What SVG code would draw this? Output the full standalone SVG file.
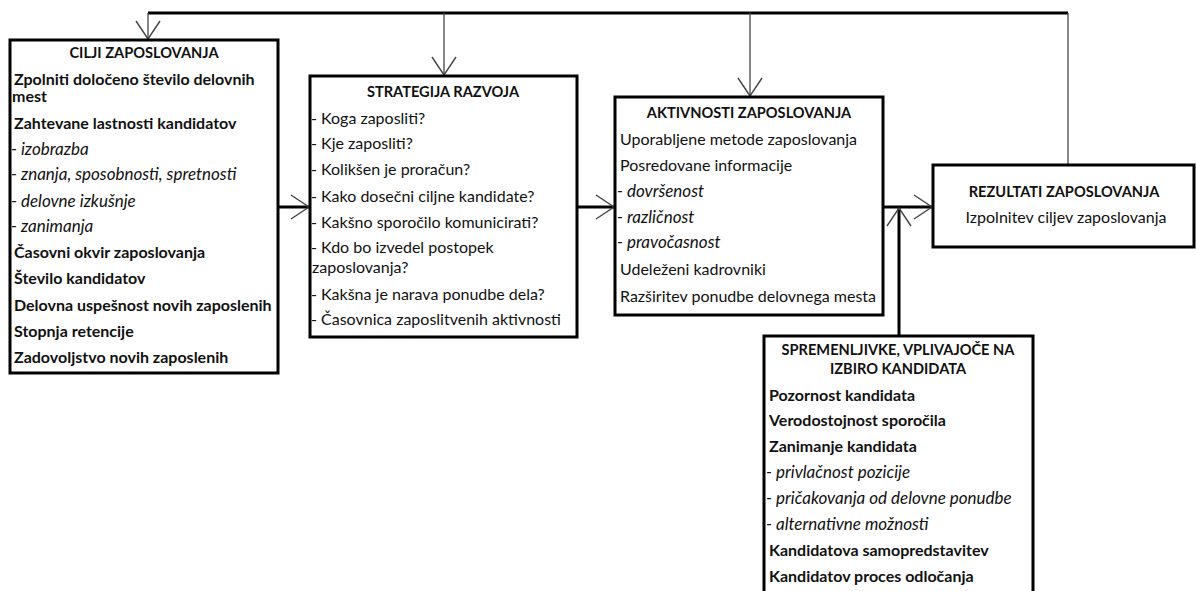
<svg xmlns="http://www.w3.org/2000/svg" width="1196" height="591" viewBox="0 0 1196 591">
<style>
text{font-family:Lato,"Liberation Sans",sans-serif;font-size:16px;fill:#111}
.t{font-weight:bold;font-size:14.6px;text-anchor:middle}
.b{font-weight:bold}
.i{font-style:italic;font-size:17px}
.box{fill:#fff;stroke:#000;stroke-width:3}
.thick{fill:none;stroke:#000;stroke-width:3}
.thin{fill:none;stroke:#444;stroke-width:1.3}
</style>
<defs>
<marker id="ah" viewBox="-20 -14 23 28" refX="0" refY="0" markerWidth="23" markerHeight="28" orient="auto" markerUnits="userSpaceOnUse">
<path d="M-18,-12 L0,0 L-18,12" fill="none" stroke="#444" stroke-width="1.4"/>
</marker>
</defs>
<g id="connectors">
<path class="thick" d="M148,13 H1068" stroke-width="2.5"/>
<path class="thin" d="M1068,13 V165"/>
<path class="thin" d="M148,13 V39" marker-end="url(#ah)"/>
<path class="thin" d="M444,13 V75" marker-end="url(#ah)"/>
<path class="thin" d="M750,13 V96" marker-end="url(#ah)"/>
<path class="thick" d="M278,207 H309" marker-end="url(#ah)"/>
<path class="thick" d="M577,207 H614" marker-end="url(#ah)"/>
<path class="thick" d="M883,207 H932" marker-end="url(#ah)"/>
<path class="thick" d="M899,336 V208" stroke-width="3.5" marker-end="url(#ah)"/>
</g>
<g id="cilji">
<rect class="box" x="10" y="40" width="268" height="333"/>
<text class="t" x="144" y="58">CILJI ZAPOSLOVANJA</text>
<text class="b" x="14" y="85">Zpolniti določeno število delovnih</text>
<text class="b" x="12" y="102">mest</text>
<text class="b" x="14" y="129">Zahtevane lastnosti kandidatov</text>
<text class="i" x="11" y="155">- izobrazba</text>
<text class="i" x="11" y="180">- znanja, sposobnosti, spretnosti</text>
<text class="i" x="11" y="207">- delovne izkušnje</text>
<text class="i" x="11" y="232">- zanimanja</text>
<text class="b" x="14" y="258">Časovni okvir zaposlovanja</text>
<text class="b" x="14" y="284">Število kandidatov</text>
<text class="b" x="14" y="311">Delovna uspešnost novih zaposlenih</text>
<text class="b" x="14" y="337">Stopnja retencije</text>
<text class="b" x="14" y="363">Zadovoljstvo novih zaposlenih</text>
</g>
<g id="strategija">
<rect class="box" x="310" y="76" width="267" height="261"/>
<text class="t" x="443" y="97">STRATEGIJA RAZVOJA</text>
<text x="311" y="124">- Koga zaposliti?</text>
<text x="311" y="149">- Kje zaposliti?</text>
<text x="311" y="175">- Kolikšen je proračun?</text>
<text x="311" y="202">- Kako dosečni ciljne kandidate?</text>
<text x="311" y="228">- Kakšno sporočilo komunicirati?</text>
<text x="311" y="253">- Kdo bo izvedel postopek</text>
<text x="312" y="273">zaposlovanja?</text>
<text x="311" y="300">- Kakšna je narava ponudbe dela?</text>
<text x="311" y="325">- Časovnica zaposlitvenih aktivnosti</text>
</g>
<g id="aktivnosti">
<rect class="box" x="615" y="97" width="268" height="218"/>
<text class="t" x="749" y="118">AKTIVNOSTI ZAPOSLOVANJA</text>
<text x="620" y="145">Uporabljene metode zaposlovanja</text>
<text x="620" y="171">Posredovane informacije</text>
<text class="i" x="617" y="197">- dovršenost</text>
<text class="i" x="617" y="223">- različnost</text>
<text class="i" x="617" y="248">- pravočasnost</text>
<text x="620" y="275">Udeleženi kadrovniki</text>
<text x="620" y="302">Razširitev ponudbe delovnega mesta</text>
</g>
<g id="rezultati">
<rect class="box" x="933" y="165" width="261" height="82"/>
<text class="t" x="1064" y="197">REZULTATI ZAPOSLOVANJA</text>
<text x="1066" y="223" text-anchor="middle">Izpolnitev ciljev zaposlovanja</text>
</g>
<g id="spremenljivke">
<rect class="box" x="764" y="336" width="269" height="280"/>
<text class="t" x="898" y="355">SPREMENLJIVKE, VPLIVAJOČE NA</text>
<text class="t" x="898" y="374">IZBIRO KANDIDATA</text>
<text class="b" x="769" y="401">Pozornost kandidata</text>
<text class="b" x="769" y="426">Verodostojnost sporočila</text>
<text class="b" x="769" y="452">Zanimanje kandidata</text>
<text class="i" x="766" y="478">- privlačnost pozicije</text>
<text class="i" x="766" y="504">- pričakovanja od delovne ponudbe</text>
<text class="i" x="766" y="530">- alternativne možnosti</text>
<text class="b" x="769" y="556">Kandidatova samopredstavitev</text>
<text class="b" x="769" y="582">Kandidatov proces odločanja</text>
</g>
</svg>
